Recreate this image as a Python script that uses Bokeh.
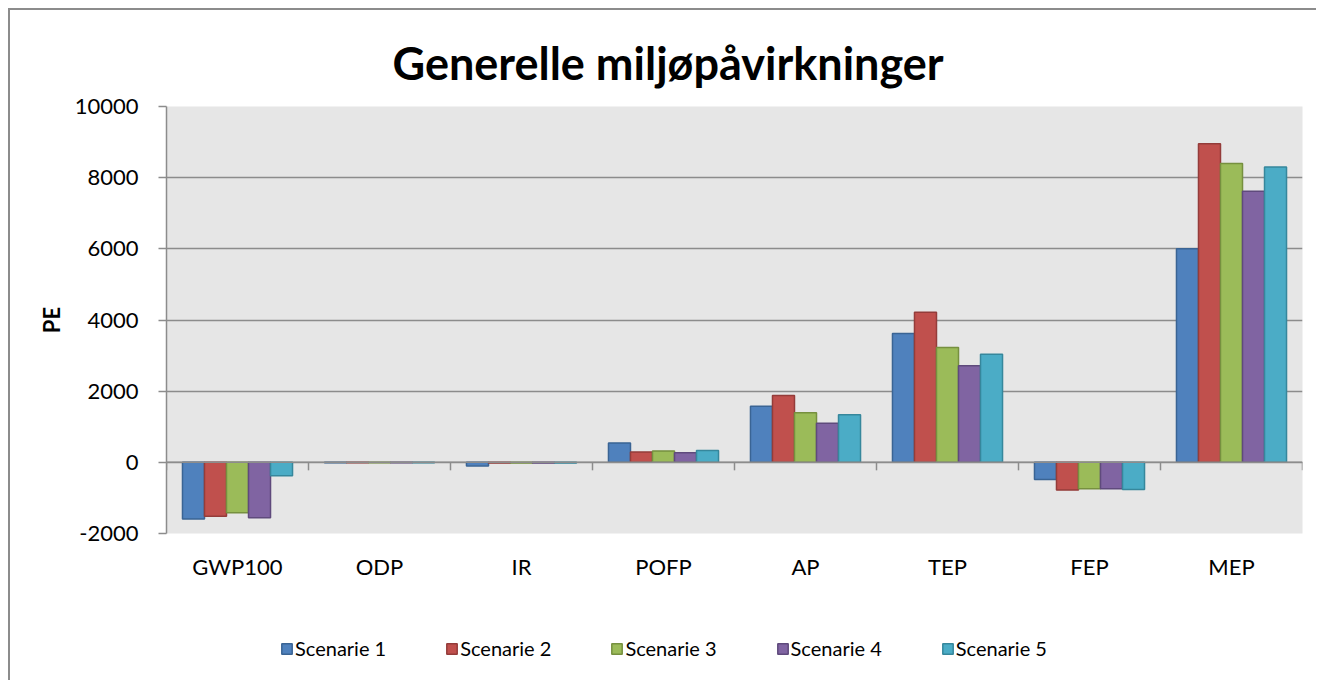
from bokeh.plotting import figure
from bokeh.layouts import column
from bokeh.models import (FactorRange, ColumnDataSource, Legend, LegendItem,
                          FixedTicker, Span)
from bokeh.transform import dodge
from bokeh.embed import file_html
from bokeh.resources import INLINE

categories = ["GWP100", "ODP", "IR", "POFP", "AP", "TEP", "FEP", "MEP"]
series_names = ["Scenarie 1", "Scenarie 2", "Scenarie 3", "Scenarie 4", "Scenarie 5"]
scenarie_1 = [-1590, -15, -100, 545, 1575, 3620, -480, 6005]
scenarie_2 = [-1515, -15, -20, 290, 1880, 4220, -780, 8950]
scenarie_3 = [-1420, -15, -20, 320, 1395, 3230, -740, 8400]
scenarie_4 = [-1560, -15, -20, 270, 1100, 2715, -740, 7620]
scenarie_5 = [-375, -15, -20, 330, 1340, 3035, -760, 8300]
y_ticks = [-2000, 0, 2000, 4000, 6000, 8000, 10000]

fills = ["#4F81BD", "#C0504D", "#9BBB59", "#8064A2", "#4BACC6"]
lines = ["#3A6494", "#943C3A", "#76903F", "#5F4A7C", "#36879C"]
FONT = "Lato"
GREY = "#8C8C8C"

series = [scenarie_1, scenarie_2, scenarie_3, scenarie_4, scenarie_5]
data = {"cat": categories}
keys = []
for i, s in enumerate(series):
    k = f"s{i+1}"
    data[k] = s
    keys.append(k)
src = ColumnDataSource(data)

W = 1306
H1, H2 = 617, 53
p = figure(x_range=FactorRange(*categories, range_padding=0, factor_padding=0),
           y_range=(-2000, 10000), width=W, height=H1,
           output_backend="svg", toolbar_location=None,
           min_border_left=156, min_border_right=14, min_border_top=96,
           min_border_bottom=94)
p.background_fill_color = "#E6E6E6"
p.border_fill_color = "white"
p.outline_line_color = None

p.title.text = "Generelle miljøpåvirkninger"
p.title.align = "left"
p.title.offset = 226
p.title.standoff = 34
p.title.text_font = FONT
p.title.text_font_style = "bold"
p.title.text_font_size = "45px"
p.title.text_color = "black"

bw = 0.155
offsets = [-2 * bw, -bw, 0, bw, 2 * bw]
for i, k in enumerate(keys):
    p.vbar(x=dodge("cat", offsets[i], range=p.x_range), top=k, bottom=0,
           width=bw, source=src, fill_color=fills[i], line_color=lines[i],
           line_width=1.5)

# grid
p.xgrid.grid_line_color = None
p.ygrid.grid_line_color = GREY
p.ygrid.grid_line_width = 1.5
p.yaxis.ticker = FixedTicker(ticks=y_ticks)
p.yaxis.major_label_overrides = {t: str(t) for t in y_ticks}

# zero axis line with category boundary ticks
p.add_layout(Span(location=0, dimension="width", line_color=GREY, line_width=1.5))
n = len(categories)
tick_len = 8 * 12000 / 427
p.segment(x0=list(range(n + 1)), x1=list(range(n + 1)), y0=[0] * (n + 1),
          y1=[-tick_len] * (n + 1), line_color=GREY, line_width=1.5)

# y axis
p.yaxis.axis_line_color = GREY
p.yaxis.axis_line_width = 1.5
p.yaxis.major_tick_line_color = GREY
p.yaxis.major_tick_line_width = 1.5
p.yaxis.major_tick_out = 8
p.yaxis.major_tick_in = 0
p.yaxis.minor_tick_line_color = None
p.yaxis.major_label_text_font = FONT
p.yaxis.major_label_text_font_size = "22px"
p.yaxis.major_label_text_color = "black"
p.yaxis.major_label_standoff = 20
p.yaxis.axis_label = "PE"
p.yaxis.axis_label_text_font = FONT
p.yaxis.axis_label_text_font_style = "bold"
p.yaxis.axis_label_text_font_size = "22px"
p.yaxis.axis_label_text_color = "black"
p.yaxis.axis_label_standoff = 7

# x axis
p.xaxis.axis_line_color = None
p.xaxis.major_tick_line_color = None
p.xaxis.minor_tick_line_color = None
p.xaxis.major_label_text_font = FONT
p.xaxis.major_label_text_font_size = "22px"
p.xaxis.major_label_text_color = "black"
p.xaxis.major_label_standoff = 13

# legend strip
pl = figure(width=W, height=H2, x_range=(0, 1), y_range=(0, 1),
            output_backend="svg", toolbar_location=None,
            min_border=0, min_border_left=0, min_border_right=0,
            min_border_top=0, min_border_bottom=0)
pl.axis.visible = False
pl.grid.visible = False
pl.outline_line_color = None
pl.background_fill_color = "white"
offscreen = ColumnDataSource({"l": [-10], "r": [-9], "b": [-10], "t": [-9]})
items = []
for i in range(len(series_names)):
    r = pl.quad(left="l", right="r", bottom="b", top="t", source=offscreen,
                fill_color=fills[i], line_color=lines[i], line_width=1.5)
    items.append(LegendItem(label=series_names[i], renderers=[r]))
legend = Legend(items=items, orientation="horizontal", location=(114, 20),
                glyph_width=13, glyph_height=13, label_standoff=2, spacing=59,
                padding=0, margin=0, border_line_color=None,
                background_fill_alpha=0, label_text_font=FONT,
                label_text_font_size="20px", label_text_color="black")
pl.add_layout(legend, "center")

layout = column(p, pl, spacing=0,
                styles={"margin-left": "8px", "margin-top": "8px",
                        "border-left": "2px solid #8C8C8C",
                        "border-top": "2px solid #8C8C8C"})
open("out.html", "w").write(file_html(layout, INLINE))
